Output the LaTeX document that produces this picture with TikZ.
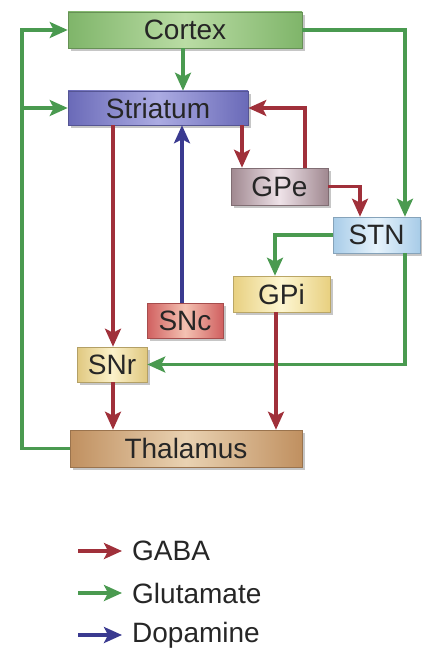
\documentclass[tikz,border=0pt]{standalone}
\usepackage{fontspec}
\setmainfont{Liberation Sans}
\usetikzlibrary{arrows.meta,shadows,calc}
\definecolor{gaba}{HTML}{A0303A}
\definecolor{glu}{HTML}{4A9A50}
\definecolor{dopa}{HTML}{3A3A90}
\definecolor{txt}{HTML}{262626}
\definecolor{cortexE}{HTML}{7FB56A}\definecolor{cortexC}{HTML}{BADCA4}
\definecolor{striE}{HTML}{6A6AB8}\definecolor{striC}{HTML}{ABABE2}
\definecolor{gpeE}{HTML}{A08890}\definecolor{gpeC}{HTML}{EEE2E8}
\definecolor{stnE}{HTML}{A8CCE8}\definecolor{stnC}{HTML}{E6F3FC}
\definecolor{gpiE}{HTML}{E8D080}\definecolor{gpiC}{HTML}{FDF6D2}
\definecolor{sncE}{HTML}{D06060}\definecolor{sncC}{HTML}{F4C2B2}
\definecolor{snrE}{HTML}{E0C880}\definecolor{snrC}{HTML}{FBF1CA}
\definecolor{thalE}{HTML}{C09060}\definecolor{thalC}{HTML}{E9D2B2}
\tikzset{
  box/.style={rectangle, inner sep=0pt, text=txt, font=\fontsize{28}{30}\selectfont,
    drop shadow={shadow xshift=3pt, shadow yshift=-3pt, opacity=0.45}},
  fillset/.style 2 args={left color=#1, right color=#1, middle color=#2, draw=#1!80!black, line width=0.6pt},
  con/.style={line width=3.2pt},
  gabaarrow/.style={con, draw=gaba, -{Stealth[length=18pt,width=16pt,inset=4pt,fill=gaba]}},
  gluarrow/.style={con, draw=glu, -{Stealth[length=18pt,width=16pt,inset=4pt,fill=glu]}},
  dopaarrow/.style={con, draw=dopa, -{Stealth[length=18pt,width=16pt,inset=4pt,fill=dopa]}},
  legtext/.style={anchor=west, inner sep=0pt, text=txt, font=\fontsize{28}{30}\selectfont}
}
\begin{document}
\begin{tikzpicture}[x=1pt,y=-1pt]
\useasboundingbox (0,0) rectangle (421,650);
% boxes
\node[box, fillset={cortexE}{cortexC}, minimum width=234pt, minimum height=36pt] (Cortex) at (185,30) {Cortex};
\node[box, fillset={striE}{striC}, minimum width=180pt, minimum height=34pt] (Striatum) at (158,108) {Striatum};
\node[box, fillset={gpeE}{gpeC}, minimum width=97pt, minimum height=37pt] (GPe) at (279.5,186.5) {GPe};
\node[box, fillset={stnE}{stnC}, minimum width=87pt, minimum height=36pt] (STN) at (376.5,235) {STN};
\node[box, fillset={gpiE}{gpiC}, minimum width=97pt, minimum height=36pt] (GPi) at (281.5,294) {GPi};
\node[box, fillset={sncE}{sncC}, minimum width=76pt, minimum height=35pt] (SNc) at (185,320.5) {SNc};
\node[box, fillset={snrE}{snrC}, minimum width=70pt, minimum height=35pt] (SNr) at (112,364.5) {SNr};
\node[box, fillset={thalE}{thalC}, minimum width=232pt, minimum height=37pt] (Thalamus) at (186,448.5) {Thalamus};
% helper coordinates
\coordinate (L) at (22,0);
\coordinate (R) at (405,0);
\coordinate (xCS) at (183,0);
\coordinate (xSG) at (242,0);
\coordinate (xGS) at (305,0);
\coordinate (xGN) at (360,0);
\coordinate (xNG) at (275,0);
\coordinate (xSN) at (113,0);
\coordinate (xDA) at (182,0);
\coordinate (xGT) at (276,0);
% glutamate
\draw[gluarrow] (Thalamus.west) -- (Thalamus.west -| L) -- (Cortex.west -| L) -- (Cortex.west);
\draw[gluarrow] (Striatum.west -| L) -- (Striatum.west);
\draw[gluarrow] (Cortex.south -| xCS) -- (Striatum.north -| xCS);
\draw[gluarrow] (Cortex.east) -| (STN.north -| R);
\draw[gluarrow] (STN.west) -| (GPi.north -| xNG);
\draw[gluarrow] (STN.south -| R) |- (SNr.east);
% GABA
\draw[gabaarrow] (Striatum.south -| xSG) -- (GPe.north -| xSG);
\draw[gabaarrow] (GPe.north -| xGS) |- (Striatum.east);
\draw[gabaarrow] (GPe.east) -| (STN.north -| xGN);
\draw[gabaarrow] (Striatum.south -| xSN) -- (SNr.north -| xSN);
\draw[gabaarrow] (GPi.south -| xGT) -- (Thalamus.north -| xGT);
\draw[gabaarrow] (SNr.south -| xSN) -- (Thalamus.north -| xSN);
% dopamine
\draw[dopaarrow] (SNc.north -| xDA) -- (Striatum.south -| xDA);
% legend
\coordinate (A1) at (78,551); \coordinate (B1) at (122,551);
\coordinate (A2) at (78,593); \coordinate (B2) at (122,593);
\coordinate (A3) at (78,635); \coordinate (B3) at (122,635);
\draw[gabaarrow] (A1) -- (B1);
\draw[gluarrow] (A2) -- (B2);
\draw[dopaarrow] (A3) -- (B3);
\node[legtext] (lg1) at (132,551) {GABA};
\node[legtext] (lg2) at (132,593) {Glutamate};
\node[legtext] (lg3) at (132,635) {Dopamine};
\end{tikzpicture}
\end{document}
